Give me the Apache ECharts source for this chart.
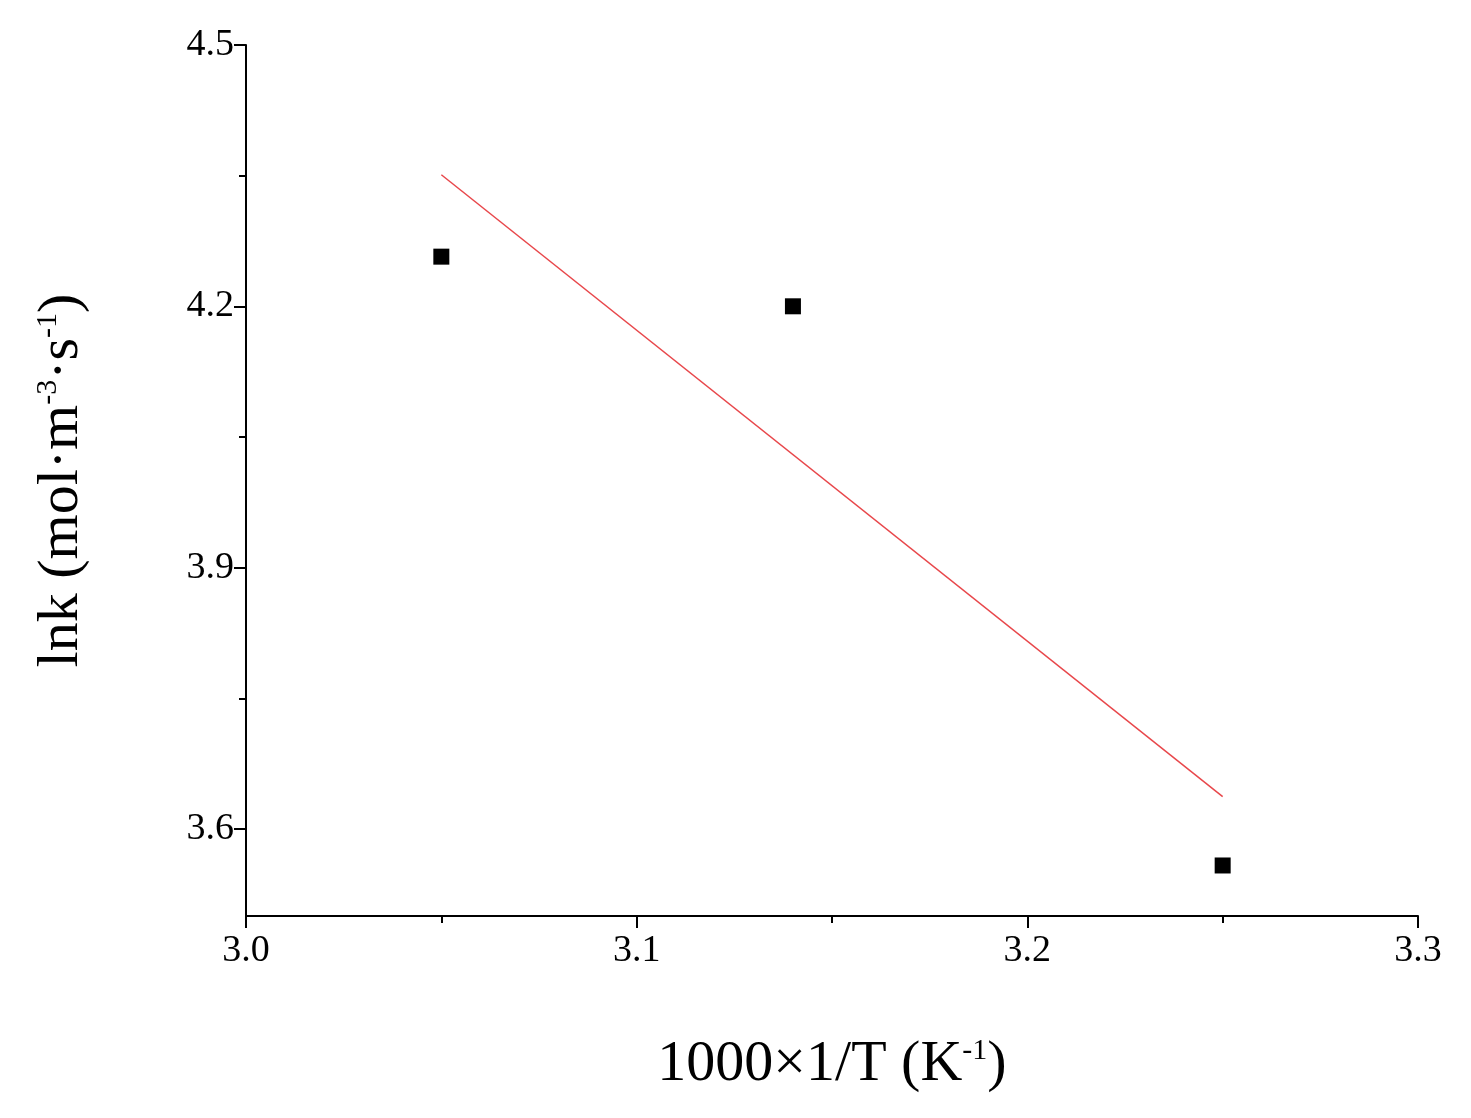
<!DOCTYPE html><html><head><meta charset="utf-8"><script src="https://cdn.jsdelivr.net/npm/echarts@6/dist/echarts.min.js"></script>
<style>html,body{margin:0;background:#fff}#c{width:1471px;height:1118px}</style></head><body><div id="c"></div><script>
const pointsX=[3.05,3.14,3.25];
const pointsY=[4.257,4.2,3.558];
const fitX=[3.05,3.25];
const fitY=[4.351,3.637];
const xMajor=[3.0,3.1,3.2,3.3];
const xMinor=[3.05,3.15,3.25];
const yMajor=[3.6,3.9,4.2,4.5];
const yMinor=[3.75,4.05,4.35];
const F='Liberation Serif';
const ax=(type,vals,len,show,extra)=>Object.assign({type:'value',min:type==='x'?3.0:3.5,max:type==='x'?3.3:4.5,
 splitLine:{show:false},axisLine:{show:show,lineStyle:{color:'#000',width:2}},
 axisTick:{show:true,inside:false,length:len,lineStyle:{color:'#000',width:2},customValues:vals},
 axisLabel:{show:show,customValues:vals,color:'#000',fontFamily:F,fontSize:38,margin:type==='x'?16:12,formatter:v=>v.toFixed(1)}},extra);
const sup={fontSize:30,verticalAlign:'top',padding:[0,0,26,0],fontFamily:F,color:'#000'};
const chart=echarts.init(document.getElementById('c'));
chart.setOption({animation:false,
 grid:{left:246,right:53,top:45,bottom:202},
 xAxis:[ax('x',xMajor,12,true,{name:'1000×1/T (K{s|-1})',nameLocation:'middle',nameGap:120,
   nameTextStyle:{fontFamily:F,fontSize:58,color:'#000',rich:{s:sup}}}),
   ax('x',xMinor,7,false,{position:'bottom'})],
 yAxis:[ax('y',yMajor,12,true,{name:'lnk (mol·m{s|-3}·s{s|-1})',nameLocation:'middle',nameGap:155,
   nameTextStyle:{fontFamily:F,fontSize:58,color:'#000',rich:{s:sup}}}),
   ax('y',yMinor,7,false,{position:'left'})],
 series:[
  {type:'line',data:fitX.map((x,i)=>[x,fitY[i]]),symbol:'none',lineStyle:{color:'#e8474b',width:1.5}},
  {type:'scatter',data:pointsX.map((x,i)=>[x,pointsY[i]]),symbol:'rect',symbolSize:16,itemStyle:{color:'#000',opacity:1}}
 ]});
</script></body></html>
